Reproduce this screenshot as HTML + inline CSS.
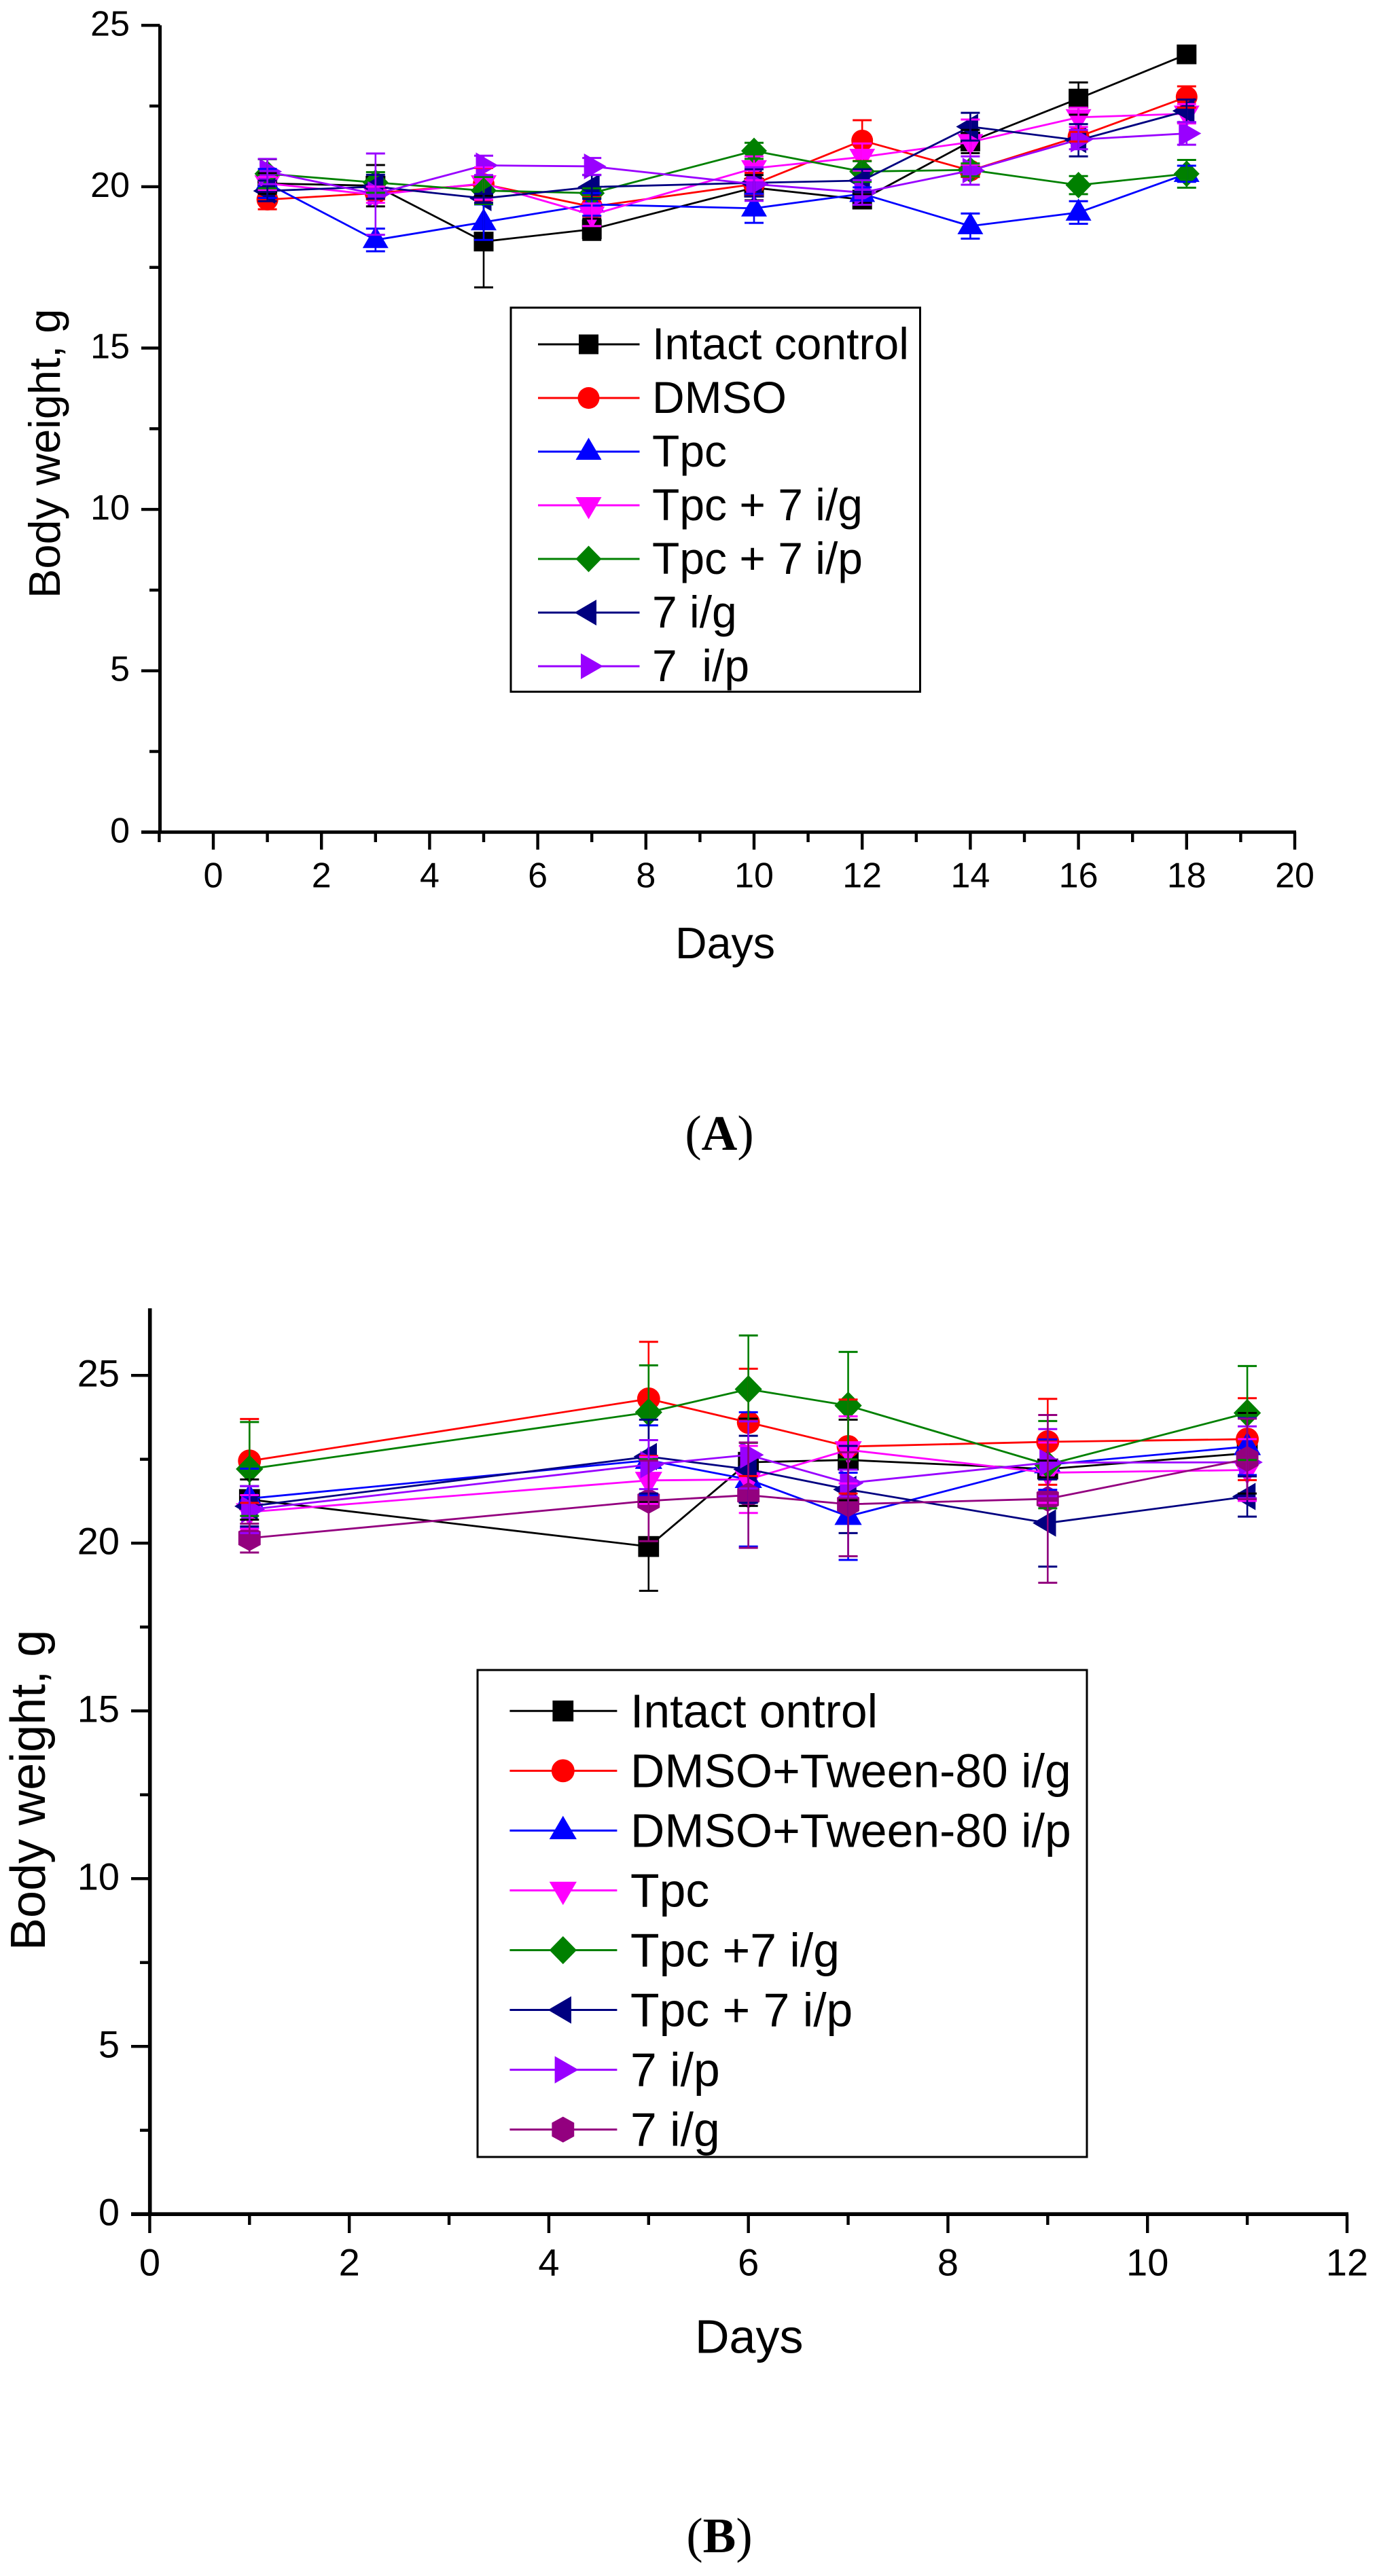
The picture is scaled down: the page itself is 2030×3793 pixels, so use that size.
<!DOCTYPE html>
<html lang="en">
<head>
<meta charset="utf-8">
<title>Body weight charts</title>
<style>
html,body{margin:0;padding:0;background:#fff}
svg{display:block}
text{font-family:"Liberation Sans",sans-serif;fill:#000;white-space:pre}
.cap{font-family:"Liberation Serif",serif}
</style>
</head>
<body>
<svg id="fig" xmlns="http://www.w3.org/2000/svg" width="2030" height="3793" viewBox="0 0 2030 3793">
  <rect x="0" y="0" width="2030" height="3793" fill="#fff"/>

  <g id="chartA"></g>
  <g id="chartB"></g>

  <text transform="translate(88,881) rotate(-90)" font-size="65">Body weight, g</text>
  <text x="994" y="1411" font-size="64.5">Days</text>
  <text class="cap" x="1059" y="1693" font-size="73" text-anchor="middle">(<tspan font-weight="bold">A</tspan>)</text>

  <rect x="752" y="453" width="602.5" height="565.5" fill="#fff" stroke="#000" stroke-width="3"/>
  <g id="legendA"></g>
  <text x="960" y="529" font-size="66">Intact control</text>
  <text x="960" y="608" font-size="66">DMSO</text>
  <text x="960" y="687" font-size="66">Tpc</text>
  <text x="960" y="766" font-size="66">Tpc + 7 i/g</text>
  <text x="960" y="845" font-size="66">Tpc + 7 i/p</text>
  <text x="960" y="924" font-size="66">7 i/g</text>
  <text x="960" y="1003" font-size="66">7  i/p</text>

  <text transform="translate(66,2872) rotate(-90)" font-size="72">Body weight, g</text>
  <text x="1023" y="3464.5" font-size="70">Days</text>
  <text class="cap" x="1059" y="3758" font-size="73" text-anchor="middle">(<tspan font-weight="bold">B</tspan>)</text>

  <rect x="703" y="2459" width="897" height="717" fill="#fff" stroke="#000" stroke-width="3"/>
  <g id="legendB"></g>
  <text x="928" y="2543.3" font-size="69.7">Intact ontrol</text>
  <text x="928" y="2631.5" font-size="69.7">DMSO+Tween-80 i/g</text>
  <text x="928" y="2719.5" font-size="69.7">DMSO+Tween-80 i/p</text>
  <text x="928" y="2807.5" font-size="69.7">Tpc</text>
  <text x="928" y="2895.5" font-size="69.7">Tpc +7 i/g</text>
  <text x="928" y="2983.5" font-size="69.7">Tpc + 7 i/p</text>
  <text x="928" y="3071.5" font-size="69.7">7 i/p</text>
  <text x="928" y="3159.5" font-size="69.7">7 i/g</text>
</svg>

<script>
// ---------- Panel A data ----------
const daysA = [1, 3, 5, 7, 10, 12, 14, 16, 18];
const xTickLabelsA = [0, 2, 4, 6, 8, 10, 12, 14, 16, 18, 20];
const xMinorTicksA = [-1, 1, 3, 5, 7, 9, 11, 13, 15, 17, 19];
const yTickLabelsA = [0, 5, 10, 15, 20, 25];
const yMinorTicksA = [2.5, 7.5, 12.5, 17.5, 22.5];

const intactA = [20.1, 20.03, 18.3, 18.68, 19.97, 19.6, 21.4, 22.73, 24.1];
const intactErrA = [0.32, 0.64, 1.42, 0.33, 0.39, 0.17, 0.36, 0.5, 0.05];
const dmsoA = [19.6, 19.8, 20.08, 19.38, 20.08, 21.43, 20.5, 21.55, 22.78];
const dmsoErrA = [0.3, 0.2, 0.5, 0.3, 0.35, 0.63, 0.2, 0.15, 0.33];
const tpcA = [20.1, 18.35, 18.9, 19.45, 19.33, 19.78, 18.78, 19.2, 20.4];
const tpcErrA = [0.45, 0.35, 0.55, 0.35, 0.45, 0.2, 0.39, 0.35, 0.25];
const tpcIgA = [20.1, 19.75, 20.1, 19.13, 20.57, 20.92, 21.38, 22.15, 22.26];
const tpcIgErrA = [0.2, 0.25, 0.5, 0.35, 0.37, 0.42, 0.7, 0.3, 0.3];
const tpcIpA = [20.4, 20.13, 19.88, 19.8, 21.11, 20.47, 20.52, 20.05, 20.4];
const tpcIpErrA = [0.45, 0.32, 0.42, 0.15, 0.25, 0.32, 0.2, 0.28, 0.43];
const igA = [19.87, 20.0, 19.64, 19.99, 20.12, 20.19, 21.86, 21.44, 22.35];
const igErrA = [0.32, 0.37, 0.14, 0.37, 0.42, 0.35, 0.43, 0.5, 0.35];
const ipA = [20.47, 19.77, 20.66, 20.63, 20.08, 19.82, 20.5, 21.46, 21.65];
const ipErrA = [0.39, 1.26, 0.3, 0.26, 0.52, 0.38, 0.44, 0.3, 0.35];

// ---------- Panel B data ----------
const daysB = [1, 5, 6, 7, 9, 11];
const xTickLabelsB = [0, 2, 4, 6, 8, 10, 12];
const xMinorTicksB = [1, 3, 5, 7, 9, 11];
const yTickLabelsB = [0, 5, 10, 15, 20, 25];
const yMinorTicksB = [2.5, 7.5, 12.5, 17.5, 22.5];

const intactB = [21.3, 19.9, 22.41, 22.48, 22.21, 22.68];
const intactErrB = [0.6, 1.32, 1.3, 1.2, 0.25, 1.2];
const dmsoIgB = [22.45, 24.3, 23.6, 22.88, 23.02, 23.1];
const dmsoIgErrB = [1.25, 1.7, 1.6, 1.4, 1.28, 1.22];
const dmsoIpB = [21.33, 22.47, 21.9, 20.8, 22.34, 22.88];
const dmsoIpErrB = [0.89, 1.04, 2.0, 1.3, 0.75, 0.85];
const tpcB = [20.93, 21.87, 21.9, 22.78, 22.1, 22.18];
const tpcErrB = [0.5, 0.7, 1.0, 1.0, 0.9, 0.92];
const tpcIgB = [22.21, 23.9, 24.59, 24.1, 22.34, 23.88];
const tpcIgErrB = [1.4, 1.4, 1.6, 1.6, 1.3, 1.4];
const tpcIpB = [21.1, 22.58, 22.2, 21.6, 20.6, 21.39];
const tpcIpErrB = [0.6, 1.1, 1.0, 1.3, 1.3, 0.6];
const ipB = [21.0, 22.34, 22.63, 21.79, 22.4, 22.41];
const ipErrB = [0.7, 0.73, 1.0, 0.4, 1.0, 1.07];
const igB = [20.15, 21.26, 21.43, 21.16, 21.32, 22.51];
const igErrB = [0.43, 1.2, 1.57, 1.55, 2.5, 1.2];

const NS = 'http://www.w3.org/2000/svg';

function mk(parent, tag, attrs) {
  const el = document.createElementNS(NS, tag);
  for (const k in attrs) el.setAttribute(k, attrs[k]);
  parent.appendChild(el);
  return el;
}

function drawMarker(parent, shape, cx, cy, color, k, label) {
  let el;
  const P = pts => pts.map(p => (cx + p[0] * k) + ',' + (cy + p[1] * k)).join(' ');
  if (shape === 'square') {
    el = mk(parent, 'rect', {x: cx - 14.5 * k, y: cy - 14.5 * k, width: 29 * k, height: 29 * k, fill: color});
  } else if (shape === 'circle') {
    el = mk(parent, 'circle', {cx: cx, cy: cy, r: 16 * k, fill: color});
  } else if (shape === 'up') {
    el = mk(parent, 'polygon', {points: P([[0, -20.5], [19, 12], [-19, 12]]), fill: color});
  } else if (shape === 'down') {
    el = mk(parent, 'polygon', {points: P([[0, 20.5], [19, -12], [-19, -12]]), fill: color});
  } else if (shape === 'diamond') {
    el = mk(parent, 'polygon', {points: P([[0, -19.5], [19, 0], [0, 19.5], [-19, 0]]), fill: color});
  } else if (shape === 'left') {
    el = mk(parent, 'polygon', {points: P([[-21, 0], [11.5, -19], [11.5, 19]]), fill: color});
  } else if (shape === 'right') {
    el = mk(parent, 'polygon', {points: P([[21.5, 0], [-11.5, -19], [-11.5, 19]]), fill: color});
  } else {
    el = mk(parent, 'polygon', {points: P([[0, -18], [15.5, -9.5], [15.5, 9.5], [0, 18], [-15.5, 9.5], [-15.5, -9.5]]), fill: color});
  }
  
  
}

function drawAxes(root, xScale, yScale, o) {
  const ax = mk(root, 'g', {stroke: '#000', fill: 'none'});
  
  

  const xLine = mk(ax, 'line', {x1: o.left, y1: yScale(0), x2: xScale(o.xMax) + 2, y2: yScale(0), 'stroke-width': o.axisW});
  
  

  const yLine = mk(ax, 'line', {x1: o.yAxisX, y1: yScale(o.yMax), x2: o.yAxisX, y2: yScale(0) + 2, 'stroke-width': o.axisW});
  
  

  o.xLabels.forEach(v => {
    const t = mk(ax, 'line', {x1: xScale(v), y1: yScale(0), x2: xScale(v), y2: o.xMajorEnd, 'stroke-width': 4.4});
    
    
    const l = mk(root, 'text', {x: xScale(v), y: o.xLabelY, 'font-size': o.tickFont, 'text-anchor': 'middle'});
    l.textContent = String(v);
    
    
  });
  o.xMinor.forEach(v => {
    const t = mk(ax, 'line', {x1: xScale(v), y1: yScale(0), x2: xScale(v), y2: o.xMinorEnd, 'stroke-width': 4.4});
    
    
  });
  o.yLabels.forEach(v => {
    const t = mk(ax, 'line', {x1: o.left, y1: yScale(v), x2: o.yAxisX, y2: yScale(v), 'stroke-width': 4.4});
    
    
    const l = mk(root, 'text', {x: o.yLabelX, y: yScale(v) + o.yLabelDy, 'font-size': o.tickFont, 'text-anchor': 'end'});
    l.textContent = String(v);
    
    
  });
  o.yMinor.forEach(v => {
    const t = mk(ax, 'line', {x1: o.yMinorStart, y1: yScale(v), x2: o.yAxisX, y2: yScale(v), 'stroke-width': 4.4});
    
    
  });
}

function drawSeries(root, days, series, xScale, yScale, k) {
  series.forEach(s => {
    const g = mk(root, 'g', {});
    
    
    const line = mk(g, 'polyline', {
      points: days.map((d, i) => xScale(d) + ',' + yScale(s.values[i])).join(' '),
      fill: 'none', stroke: s.color, 'stroke-width': 2.8, 'stroke-linejoin': 'round'
    });
    
    
    days.forEach((d, i) => drawMarker(g, s.shape, xScale(d), yScale(s.values[i]), s.color, k, 'point-' + s.id + '-day-' + d));
  });
  series.forEach(s => {
    const g = mk(root, 'g', {stroke: s.color, fill: 'none'});
    
    
    days.forEach((d, i) => {
      const x = xScale(d);
      const hi = yScale(s.values[i] + s.errors[i]);
      const lo = yScale(s.values[i] - s.errors[i]);
      mk(g, 'line', {x1: x, x2: x, y1: hi, y2: lo, 'stroke-width': 2.6});
      mk(g, 'line', {x1: x - 14, x2: x + 14, y1: hi, y2: hi, 'stroke-width': 3});
      mk(g, 'line', {x1: x - 14, x2: x + 14, y1: lo, y2: lo, 'stroke-width': 3});
    });
  });
}

function drawLegend(root, series, x1, x2, cx, y0, step, k) {
  series.forEach((s, i) => {
    const y = y0 + i * step;
    const l = mk(root, 'line', {x1: x1, x2: x2, y1: y, y2: y, stroke: s.color, 'stroke-width': 3});
    
    
    drawMarker(root, s.shape, cx, y, s.color, k, 'legend-marker-' + s.id);
  });
}

// ---------- Panel A ----------
const xA = v => 314 + v * 79.6;
const yA = v => 1225.3 - v * 47.52;
const seriesA = [
  {id: 'intact-control', values: intactA, errors: intactErrA, color: '#000000', shape: 'square'},
  {id: 'dmso', values: dmsoA, errors: dmsoErrA, color: '#ff0000', shape: 'circle'},
  {id: 'tpc', values: tpcA, errors: tpcErrA, color: '#0000ff', shape: 'up'},
  {id: 'tpc-7-ig', values: tpcIgA, errors: tpcIgErrA, color: '#ff00ff', shape: 'down'},
  {id: 'tpc-7-ip', values: tpcIpA, errors: tpcIpErrA, color: '#008000', shape: 'diamond'},
  {id: '7-ig', values: igA, errors: igErrA, color: '#000080', shape: 'left'},
  {id: '7-ip', values: ipA, errors: ipErrA, color: '#9900ff', shape: 'right'}
];
const rootA = document.getElementById('chartA');
drawAxes(rootA, xA, yA, {
  left: 208, yAxisX: 235.5, xMax: 20, yMax: 25, axisW: 5,
  xLabels: xTickLabelsA, xMinor: xMinorTicksA, yLabels: yTickLabelsA, yMinor: yMinorTicksA,
  xMajorEnd: 1251, xMinorEnd: 1240, xLabelY: 1306.5, yLabelX: 191, yLabelDy: 15,
  yMinorStart: 220, tickFont: 52
});
drawSeries(rootA, daysA, seriesA, xA, yA, 1);
drawLegend(document.getElementById('legendA'), seriesA, 792, 941.5, 866.5, 507, 79, 1);

// ---------- Panel B ----------
const xB = v => 220.4 + v * 146.88;
const yB = v => 3260.2 - v * 49.4;
const seriesB = [
  {id: 'intact-ontrol', values: intactB, errors: intactErrB, color: '#000000', shape: 'square'},
  {id: 'dmso-tween-ig', values: dmsoIgB, errors: dmsoIgErrB, color: '#ff0000', shape: 'circle'},
  {id: 'dmso-tween-ip', values: dmsoIpB, errors: dmsoIpErrB, color: '#0000ff', shape: 'up'},
  {id: 'tpc-b', values: tpcB, errors: tpcErrB, color: '#ff00ff', shape: 'down'},
  {id: 'tpc-7-ig-b', values: tpcIgB, errors: tpcIgErrB, color: '#008000', shape: 'diamond'},
  {id: 'tpc-7-ip-b', values: tpcIpB, errors: tpcIpErrB, color: '#000080', shape: 'left'},
  {id: '7-ip-b', values: ipB, errors: ipErrB, color: '#9900ff', shape: 'right'},
  {id: '7-ig-b', values: igB, errors: igErrB, color: '#93007f', shape: 'hex'}
];
const rootB = document.getElementById('chartB');
drawAxes(rootB, xB, yB, {
  left: 193, yAxisX: 220.7, xMax: 12, yMax: 27, axisW: 5.6,
  xLabels: xTickLabelsB, xMinor: xMinorTicksB, yLabels: yTickLabelsB, yMinor: yMinorTicksB,
  xMajorEnd: 3288, xMinorEnd: 3276, xLabelY: 3350.7, yLabelX: 176, yLabelDy: 16.5,
  yMinorStart: 206, tickFont: 56
});
drawSeries(rootB, daysB, seriesB, xB, yB, 1.06);
drawLegend(document.getElementById('legendB'), seriesB, 750.4, 908.4, 828.8, 2519.3, 88.05, 1.06);
</script>
</body>
</html>
